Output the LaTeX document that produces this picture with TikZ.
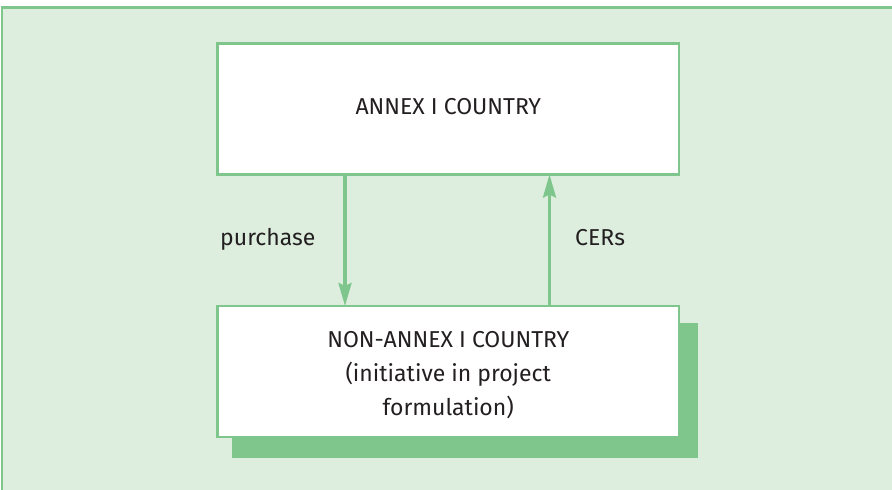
\documentclass[tikz,border=0pt]{standalone}
\usepackage{fontspec}
\setmainfont{Fira Sans}
\usetikzlibrary{arrows.meta}
\definecolor{frameGreen}{HTML}{7EC68C}
\definecolor{bgGreen}{HTML}{DDEEDF}
\definecolor{txtGray}{HTML}{231F20}
\tikzset{
  box/.style={draw=frameGreen, line width=2.5pt, fill=white, minimum width=461.5pt, minimum height=131pt, inner sep=0pt, outer sep=0pt},
  boxtext/.style={text=txtGray, align=center, inner sep=0pt, font=\fontsize{23}{34}\selectfont},
  flow/.style={draw=frameGreen, line width=3.2pt, -{Stealth[length=23pt,width=13pt,inset=3pt]}},
  lbl/.style={text=txtGray, font=\fontsize{23}{28}\selectfont, inner sep=0pt, anchor=base west}
}
\begin{document}
\begin{tikzpicture}[x=1pt,y=-1pt]
\useasboundingbox (0,0) rectangle (892,490);
% background frame
\fill[bgGreen] (2,7.7) rectangle (900,500);
\draw[frameGreen, line width=2.5pt] (2,500) -- (2,7.7) -- (900,7.7);
% shadow
\fill[frameGreen] (232,323) rectangle (698,458);
% boxes
\node[box] (annex) at (448.25,109) {};
\node[boxtext, yshift=2pt] (annexText) at (annex.center) {ANNEX I COUNTRY};
\node[box] (nonannex) at (448.25,371.5) {};
\node[boxtext, yshift=-4pt] (nonannexText) at (nonannex.center) {NON-ANNEX I COUNTRY\\(initiative in project\\formulation)};
% arrows
\coordinate (pTop) at (345,174.5);
\coordinate (cTop) at (549.5,174.5);
\draw[flow] (annex.south -| pTop) -- (nonannex.north -| pTop);
\draw[flow] (nonannex.north -| cTop) -- (annex.south -| cTop);
% labels
\node[lbl] (purchase) at (220,245) {purchase};
\node[lbl] (cers) at (575,245) {CERs};
\end{tikzpicture}
\end{document}
